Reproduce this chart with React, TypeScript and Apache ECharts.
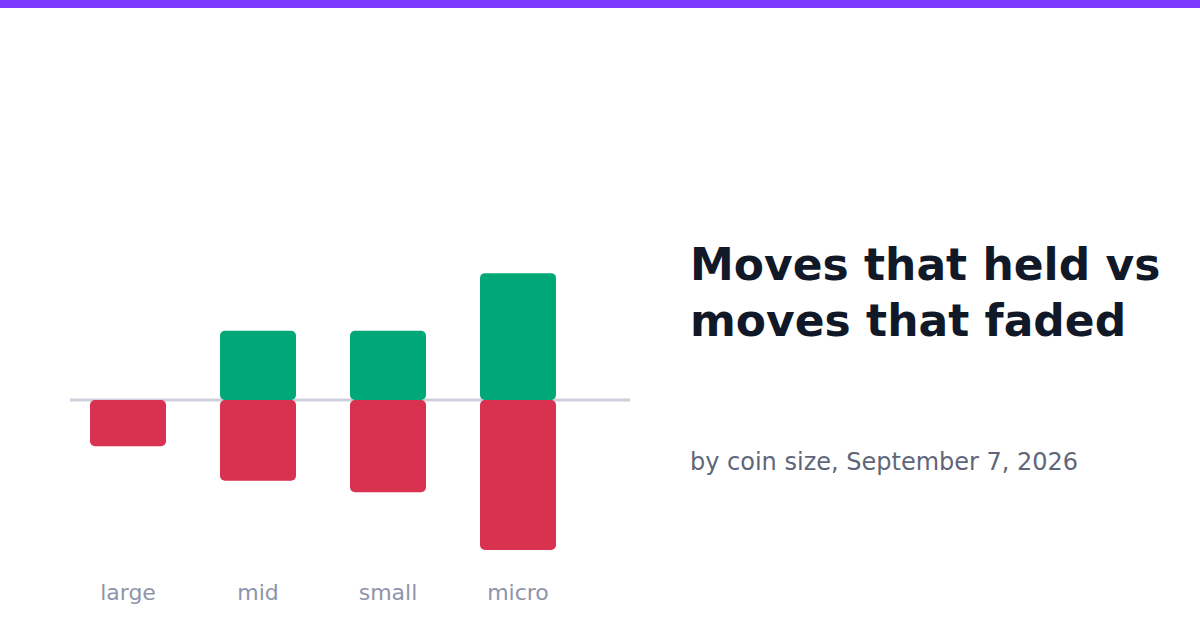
import React, { useEffect, useRef } from "react";
import * as echarts from "echarts";

const categories = ["large", "mid", "small", "micro"];
const heldValues = [0, 12, 12, 22];
const fadedValues = [-8, -14, -16, -26];
const titleLines = ["Moves that held vs", "moves that faded"];
const subtitle = "by coin size, September 7, 2026";

const FONT = "'DejaVu Sans', sans-serif";

export default function App() {
  const ref = useRef<HTMLDivElement>(null);
  useEffect(() => {
    if (!ref.current) return;
    const chart = echarts.init(ref.current, null, { renderer: "svg" });
    chart.setOption({
      animation: false,
      backgroundColor: "#ffffff",
      grid: { left: 63, width: 520, top: 227, height: 346 },
      xAxis: {
        type: "category",
        data: categories,
        axisLine: { show: false },
        axisTick: { show: false },
        axisLabel: { color: "#8e94aa", fontSize: 22, fontFamily: FONT, margin: 8 },
      },
      yAxis: {
        type: "value",
        min: -30,
        max: 30,
        show: false,
        splitLine: { show: false },
      },
      series: [
        {
          name: "held",
          type: "bar",
          data: heldValues,
          barWidth: 76,
          barGap: "-100%",
          itemStyle: { color: "#00a878", borderRadius: 5 },
          z: 3,
        },
        {
          name: "faded",
          type: "bar",
          data: fadedValues,
          barWidth: 76,
          itemStyle: { color: "#d93250", borderRadius: 5 },
          z: 3,
        },
      ],
      graphic: [
        { type: "rect", shape: { x: 0, y: 0, width: 1200, height: 8 }, style: { fill: "#7c3aff" } },
        {
          type: "line",
          z: 1,
          shape: { x1: 70, y1: 400, x2: 630, y2: 400 },
          style: { stroke: "#cdcfdb", lineWidth: 3 },
        },
        {
          type: "text",
          x: 690,
          y: 264,
          style: {
            text: titleLines[0],
            fill: "#111827",
            font: `bold 44px ${FONT}`,
            verticalAlign: "middle",
          },
        },
        {
          type: "text",
          x: 690,
          y: 320,
          style: {
            text: titleLines[1],
            fill: "#111827",
            font: `bold 44px ${FONT}`,
            verticalAlign: "middle",
          },
        },
        {
          type: "text",
          x: 690,
          y: 462,
          style: {
            text: subtitle,
            fill: "#5f6679",
            font: `24px ${FONT}`,
            verticalAlign: "middle",
          },
        },
      ],
    });
    return () => chart.dispose();
  }, []);
  return (
    <div
      ref={ref}
      style={{ position: "fixed", left: 0, top: 0, width: 1200, height: 630 }}
    />
  );
}
